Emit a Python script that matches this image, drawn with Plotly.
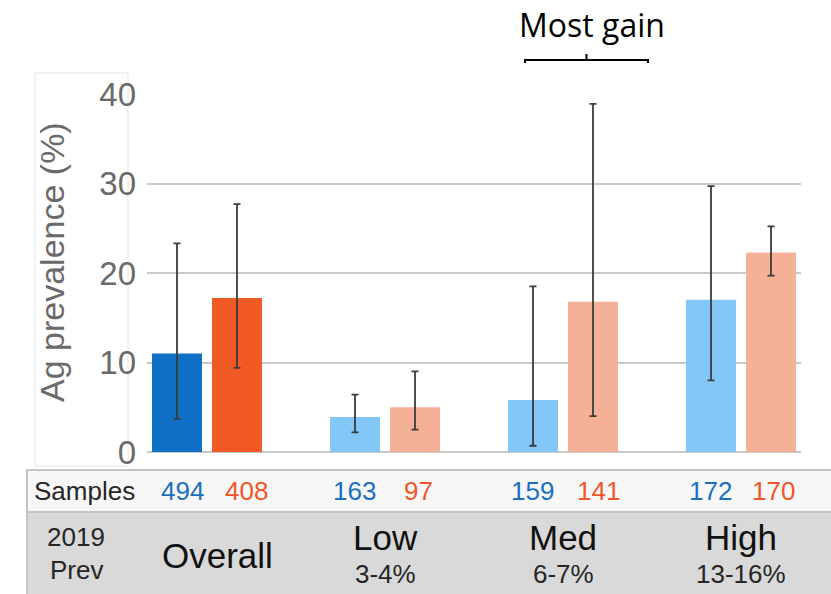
import plotly.graph_objects as go

# ---- data -------------------------------------------------------------
groups = ["Overall", "Low", "Med", "High"]
group_ranges = ["", "3-4%", "6-7%", "13-16%"]

prev_2019_a = [11.0, 3.9, 5.8, 17.0]        # blue series
prev_2019_a_lo = [3.7, 2.2, 0.7, 8.0]
prev_2019_a_hi = [23.3, 6.4, 18.5, 29.7]

prev_2019_b = [17.2, 5.0, 16.8, 22.3]       # orange series
prev_2019_b_lo = [9.4, 2.5, 4.0, 19.7]
prev_2019_b_hi = [27.7, 9.0, 38.9, 25.2]

samples_a = [494, 163, 159, 172]
samples_b = [408, 97, 141, 170]

y_ticks = [0, 10, 20, 30, 40]

# ---- styling ----------------------------------------------------------
blue_cols = ["#1070c6", "#82c7f7", "#82c7f7", "#82c7f7"]
orange_cols = ["#f15a24", "#f5b197", "#f5b197", "#f5b197"]
num_blue = "#1a6fc0"
num_orange = "#f0562a"
err_col = "#3c3c3c"
SANS = "Liberation Sans, Arial, sans-serif"

W, H = 831, 594
L, R, T, B = 147, 30, 94, 142
PW, PH = W - L - R, H - T - B


def px(x, y):
    """pixel position -> paper coordinates"""
    return (x - L) / PW, (H - B - y) / PH


xs = list(range(len(groups)))

fig = go.Figure()
fig.add_trace(go.Bar(
    x=xs, y=prev_2019_a, marker=dict(color=blue_cols, line=dict(width=0)),
    error_y=dict(type="data", symmetric=False,
                 array=[h - v for h, v in zip(prev_2019_a_hi, prev_2019_a)],
                 arrayminus=[v - l for v, l in zip(prev_2019_a, prev_2019_a_lo)],
                 color=err_col, thickness=1.8, width=3.5),
    showlegend=False,
))
fig.add_trace(go.Bar(
    x=xs, y=prev_2019_b, marker=dict(color=orange_cols, line=dict(width=0)),
    error_y=dict(type="data", symmetric=False,
                 array=[h - v for h, v in zip(prev_2019_b_hi, prev_2019_b)],
                 arrayminus=[v - l for v, l in zip(prev_2019_b, prev_2019_b_lo)],
                 color=err_col, thickness=1.8, width=3.5),
    showlegend=False,
))

shapes = []
annotations = []

# faint frame around the y-axis area
x0, y0 = px(35, 73)
x1, y1 = px(128, 466)
shapes.append(dict(type="rect", xref="paper", yref="paper", x0=x0, y0=y1, x1=x1, y1=y0,
                   line=dict(color="#e4e4e4", width=1), fillcolor="rgba(0,0,0,0)", layer="below"))

# table: samples row (white) and prevalence row (grey)
x0, y0 = px(27, 470)
x1, y1 = px(833, 512)
shapes.append(dict(type="rect", xref="paper", yref="paper", x0=x0, y0=y1, x1=x1, y1=y0,
                   line=dict(color="#c4c4c4", width=2), fillcolor="#f7f7f7"))
x0, y0 = px(27, 512)
x1, y1 = px(833, 596)
shapes.append(dict(type="rect", xref="paper", yref="paper", x0=x0, y0=y1, x1=x1, y1=y0,
                   line=dict(color="#c4c4c4", width=2), fillcolor="#d9d9d9"))

# bracket over the Med group
bx0, by = px(525, 60)
bx1, _ = px(648, 60)
bmid, btop = px(586.5, 54)
_, bdrop = px(0, 63)
shapes.append(dict(type="path", xref="paper", yref="paper",
                   path=f"M {bx0},{bdrop} L {bx0},{by} L {bx1},{by} L {bx1},{bdrop}",
                   line=dict(color="black", width=2)))
shapes.append(dict(type="line", xref="paper", yref="paper",
                   x0=bmid, x1=bmid, y0=by, y1=btop, line=dict(color="black", width=2)))

ax, ay = px(591.5, 24)
annotations.append(dict(text="Most gain", xref="paper", yref="paper", x=ax, y=ay,
                        showarrow=False, xanchor="center", yanchor="middle",
                        font=dict(family="Open Sans, sans-serif", size=32, color="black")))

# y-axis title
ax, ay = px(52, 262)
annotations.append(dict(text="Ag prevalence (%)", xref="paper", yref="paper", x=ax, y=ay,
                        textangle=-90, showarrow=False, xanchor="center", yanchor="middle",
                        font=dict(family=SANS, size=34, color="#6a6a6a")))

# samples row
_, sy = px(0, 491)
ax, _ = px(84, 0)
annotations.append(dict(text="Samples", xref="paper", yref="paper", x=ax, y=sy,
                        showarrow=False, xanchor="center", yanchor="middle",
                        font=dict(family=SANS, size=26, color="#262626")))
off_a = [-0.14, -0.17, -0.17, -0.17]
off_b = [0.22, 0.19, 0.20, 0.18]
for i, (na, nb) in enumerate(zip(samples_a, samples_b)):
    annotations.append(dict(text=str(na), xref="x", yref="paper", x=i + off_a[i], y=sy,
                            showarrow=False, xanchor="center", yanchor="middle",
                            font=dict(family=SANS, size=26, color=num_blue)))
    annotations.append(dict(text=str(nb), xref="x", yref="paper", x=i + off_b[i], y=sy,
                            showarrow=False, xanchor="center", yanchor="middle",
                            font=dict(family=SANS, size=26, color=num_orange)))

# prevalence row
ax, ay1 = px(76, 537)
_, ay2 = px(0, 569.5)
annotations.append(dict(text="2019", xref="paper", yref="paper", x=ax, y=ay1,
                        showarrow=False, xanchor="center", yanchor="middle",
                        font=dict(family=SANS, size=26, color="#262626")))
annotations.append(dict(text="Prev", xref="paper", yref="paper", x=ax, y=ay2,
                        showarrow=False, xanchor="center", yanchor="middle",
                        font=dict(family=SANS, size=26, color="#262626")))

_, gy_single = px(0, 555)
_, gy_top = px(0, 537)
_, gy_bot = px(0, 574)
for i, (g, r) in enumerate(zip(groups, group_ranges)):
    if r:
        annotations.append(dict(text=g, xref="x", yref="paper", x=i, y=gy_top,
                                showarrow=False, xanchor="center", yanchor="middle",
                                font=dict(family=SANS, size=35, color="#111111")))
        annotations.append(dict(text=r, xref="x", yref="paper", x=i, y=gy_bot,
                                showarrow=False, xanchor="center", yanchor="middle",
                                font=dict(family=SANS, size=26, color="#262626")))
    else:
        annotations.append(dict(text=g, xref="x", yref="paper", x=i + 0.06, y=gy_single,
                                showarrow=False, xanchor="center", yanchor="middle",
                                font=dict(family=SANS, size=35, color="#111111")))

fig.update_layout(
    width=W, height=H,
    margin=dict(l=L, r=R, t=T, b=B, pad=0),
    paper_bgcolor="white", plot_bgcolor="white",
    barmode="group", bargap=0.326, bargroupgap=0.167,
    xaxis=dict(range=[-0.337, 3.337], showticklabels=False, showgrid=False,
               zeroline=False, showline=False, fixedrange=True),
    yaxis=dict(range=[0, 40], tickvals=y_ticks, showgrid=True, gridcolor="#c9c9c9",
               gridwidth=1.5, zeroline=True, zerolinecolor="#c9c9c9", zerolinewidth=1.5,
               showline=False, ticks="", ticklabelstandoff=10,
               tickfont=dict(family=SANS, size=33, color="#6a6a6a"), fixedrange=True),
    shapes=shapes, annotations=annotations,
)

fig.write_html("out.html")
